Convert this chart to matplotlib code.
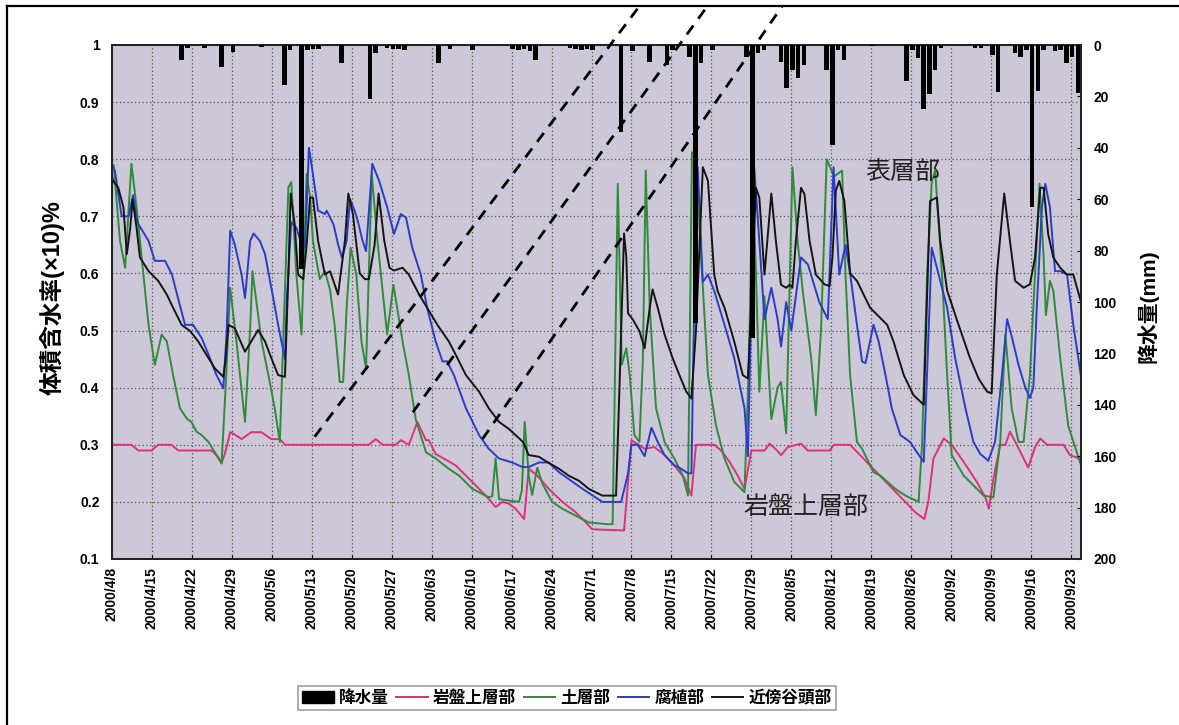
import numpy as np
import matplotlib.pyplot as plt
from matplotlib.lines import Line2D
from matplotlib.patches import Patch
from matplotlib.ticker import FuncFormatter

plt.rcParams['font.family'] = ['Liberation Sans', 'Noto Sans CJK JP']
plt.rcParams['axes.unicode_minus'] = False

# x = 2000/4/8 からの経過日数
date_labels = ['2000/4/8', '2000/4/15', '2000/4/22', '2000/4/29', '2000/5/6', '2000/5/13',
               '2000/5/20', '2000/5/27', '2000/6/3', '2000/6/10', '2000/6/17', '2000/6/24',
               '2000/7/1', '2000/7/8', '2000/7/15', '2000/7/22', '2000/7/29', '2000/8/5',
               '2000/8/12', '2000/8/19', '2000/8/26', '2000/9/2', '2000/9/9', '2000/9/16',
               '2000/9/23']
tick_days = [7 * i for i in range(len(date_labels))]

# 降水量 (日, mm)
rain = [(12, 5.8), (13, 1.2), (16, 1.0), (19, 8.5), (21, 2.6), (26, 0.6), (30, 15.6), (31, 2.0),
        (33, 87), (34, 2.0), (35, 1.5), (36, 1.5), (40, 7.0), (45, 21), (46, 3.0), (48, 1.0),
        (49, 1.5), (50, 1.5), (51, 2.0), (57, 7.0), (59, 1.5), (63, 2.0), (70, 1.5), (71, 2.0),
        (72, 1.5), (73, 2.5), (74, 5.8), (80, 1.0), (81, 1.5), (82, 2.0), (83, 1.5), (84, 2.0),
        (89, 34), (91, 2.5), (94, 6.5), (97, 7.8), (98, 2.0), (101, 4.5), (102, 108), (103, 7.0),
        (105, 2.0), (111, 4.7), (112, 114), (113, 3), (114, 2), (117, 6.6), (118, 16.9),
        (119, 9.7), (120, 12.9), (121, 7.8), (125, 9.7), (126, 38.9), (127, 2), (128, 5.8),
        (133, 0.5), (139, 14), (140, 2), (141, 5), (142, 25), (143, 19), (144, 9.7), (145, 1),
        (151, 1), (152, 1), (154, 3.9), (155, 18.2), (158, 3), (159, 4.5), (160, 2), (161, 63),
        (162, 18), (163, 2), (165, 2.5), (166, 2), (167, 7), (168, 4.6), (169, 18.8)]

# 岩盤上層部
bedrock = [(0, 0.30), (3.4, 0.30), (4.6, 0.29), (6.9, 0.29), (8.1, 0.30), (10.4, 0.30), (11.6, 0.29),
           (17.4, 0.29), (18.5, 0.28), (19.2, 0.268), (19.8, 0.285), (20.7, 0.322), (21.5, 0.318),
           (22.7, 0.31), (24.4, 0.322), (26.2, 0.322), (27.9, 0.31), (29.4, 0.31), (30.3, 0.30),
           (45.0, 0.30), (46.2, 0.31), (47.4, 0.30), (49.7, 0.30), (50.6, 0.308), (52.0, 0.30),
           (53.5, 0.34), (55.0, 0.308), (55.5, 0.308), (56.7, 0.284), (60.2, 0.264), (62.0, 0.246),
           (64.3, 0.223), (66.0, 0.205), (67.2, 0.191), (68.4, 0.20), (69.5, 0.197), (70.7, 0.188),
           (72.2, 0.17), (73.0, 0.258), (74.5, 0.246), (76.5, 0.223), (78.9, 0.20), (81.2, 0.182),
           (83.0, 0.164), (84.1, 0.152), (89.7, 0.15), (91.0, 0.308), (93.3, 0.293), (95.0, 0.296),
           (96.8, 0.282), (98.5, 0.264), (100.3, 0.241), (101.5, 0.211), (102.3, 0.30), (105.5, 0.30),
           (106.7, 0.29), (108.2, 0.27), (109.6, 0.246), (110.8, 0.223), (112.0, 0.29), (114.3, 0.29),
           (115.2, 0.302), (116.5, 0.29), (117.2, 0.282), (118.4, 0.296), (120.7, 0.302), (121.9, 0.29),
           (125.7, 0.29), (126.5, 0.30), (129.3, 0.30), (140.7, 0.182), (142.3, 0.17), (143.0, 0.20),
           (143.9, 0.276), (145.7, 0.311), (147.1, 0.30), (149.2, 0.27), (151.5, 0.235), (153.0, 0.208),
           (153.6, 0.188), (154.4, 0.24), (155.6, 0.30), (156.5, 0.30), (157.3, 0.323), (158.5, 0.30),
           (159.7, 0.276), (160.5, 0.26), (161.7, 0.296), (162.6, 0.311), (163.8, 0.30), (166.7, 0.30),
           (167.8, 0.282), (169.75, 0.275)]

# 土層部
soil = [(0, 0.78), (0.3, 0.79), (1.4, 0.657), (2.3, 0.61), (3.4, 0.792), (4.3, 0.716), (5.5, 0.598),
        (6.4, 0.51), (7.5, 0.44), (8.7, 0.493), (9.6, 0.481), (10.7, 0.422), (11.9, 0.364), (13.1, 0.346),
        (13.9, 0.34), (14.8, 0.323), (15.7, 0.317), (16.9, 0.305), (18.3, 0.282), (19.2, 0.267),
        (20.0, 0.42), (20.7, 0.575), (21.8, 0.481), (23.3, 0.34), (24.2, 0.504), (24.6, 0.604),
        (26.2, 0.481), (27.4, 0.422), (28.5, 0.364), (29.4, 0.305), (30.9, 0.751), (31.4, 0.76),
        (32.3, 0.598), (33.2, 0.493), (34.1, 0.774), (34.7, 0.733), (35.2, 0.657), (36.4, 0.59),
        (37.3, 0.604), (38.2, 0.571), (39.0, 0.51), (39.9, 0.41), (40.5, 0.41), (41.1, 0.54),
        (41.8, 0.645), (42.8, 0.598), (43.7, 0.481), (44.5, 0.434), (45.5, 0.774), (46.5, 0.657),
        (48.2, 0.493), (49.3, 0.58), (50.9, 0.481), (52.0, 0.422), (53.2, 0.345), (55.0, 0.287),
        (56.7, 0.276), (59.0, 0.258), (60.8, 0.246), (63.1, 0.223), (66.0, 0.208), (66.6, 0.21),
        (67.2, 0.276), (67.8, 0.205), (69.0, 0.203), (71.3, 0.20), (71.8, 0.22), (72.3, 0.34),
        (73.0, 0.246), (73.6, 0.212), (74.5, 0.26), (75.4, 0.232), (77.1, 0.20), (78.9, 0.188),
        (81.2, 0.176), (83.5, 0.164), (86.7, 0.161), (87.7, 0.161), (88.0, 0.35), (88.6, 0.757),
        (89.3, 0.44), (90.1, 0.469), (90.7, 0.422), (91.5, 0.317), (92.4, 0.305), (93.0, 0.45),
        (93.5, 0.78), (94.2, 0.54), (95.3, 0.364), (96.8, 0.305), (98.5, 0.276), (100.0, 0.246),
        (100.9, 0.211), (101.6, 0.812), (102.3, 0.804), (103.2, 0.628), (104.4, 0.422), (105.8, 0.334),
        (107.3, 0.276), (109.0, 0.235), (110.8, 0.217), (111.6, 0.45), (112.2, 0.786), (112.8, 0.60),
        (113.4, 0.393), (114.3, 0.56), (115.5, 0.345), (116.6, 0.40), (117.2, 0.41), (118.1, 0.32),
        (119.2, 0.786), (120.1, 0.657), (121.0, 0.57), (122.5, 0.45), (123.3, 0.352), (124.2, 0.50),
        (125.2, 0.80), (126.5, 0.77), (127.9, 0.78), (128.5, 0.598), (129.3, 0.422), (130.5, 0.305),
        (131.4, 0.293), (133.4, 0.252), (134.6, 0.246), (137.2, 0.223), (139.0, 0.211), (141.3, 0.20),
        (141.9, 0.30), (142.8, 0.60), (143.6, 0.76), (144.2, 0.78), (145.4, 0.598), (146.3, 0.422),
        (147.1, 0.282), (149.2, 0.246), (152.7, 0.211), (154.4, 0.208), (155.6, 0.305), (156.5, 0.493),
        (157.6, 0.364), (158.8, 0.305), (159.7, 0.305), (160.8, 0.422), (161.7, 0.598), (162.5, 0.757),
        (163.2, 0.628), (163.6, 0.527), (164.3, 0.587), (164.9, 0.57), (166.1, 0.452), (167.5, 0.334),
        (169.75, 0.264)]

# 腐植部
humus = [(0, 0.79), (0.5, 0.78), (1.7, 0.70), (2.9, 0.70), (3.7, 0.737), (4.4, 0.69), (6.4, 0.657),
         (7.5, 0.622), (9.3, 0.622), (10.5, 0.598), (12.0, 0.54), (12.8, 0.51), (14.2, 0.51),
         (15.7, 0.487), (16.9, 0.458), (18.3, 0.422), (19.5, 0.399), (20.1, 0.50), (20.7, 0.675),
         (21.5, 0.651), (22.7, 0.598), (23.3, 0.557), (24.2, 0.657), (24.8, 0.67), (25.9, 0.657),
         (26.8, 0.634), (28.0, 0.57), (29.1, 0.51), (30.3, 0.45), (30.6, 0.55), (31.4, 0.69),
         (32.3, 0.68), (33.2, 0.651), (33.8, 0.645), (34.5, 0.82), (35.2, 0.774), (36.1, 0.71),
         (37.3, 0.704), (37.6, 0.71), (38.8, 0.686), (39.6, 0.651), (40.3, 0.627), (41.1, 0.657),
         (41.7, 0.73), (42.5, 0.71), (43.1, 0.69), (43.9, 0.657), (44.5, 0.639), (45.6, 0.792),
         (46.8, 0.762), (48.2, 0.716), (49.4, 0.669), (50.6, 0.704), (51.5, 0.698), (52.6, 0.645),
         (54.1, 0.598), (55.2, 0.54), (56.7, 0.481), (57.9, 0.446), (58.7, 0.446), (59.9, 0.422),
         (62.0, 0.364), (64.3, 0.317), (66.0, 0.293), (67.8, 0.276), (70.1, 0.269), (71.9, 0.261),
         (73.0, 0.261), (74.8, 0.269), (76.5, 0.269), (78.3, 0.252), (80.0, 0.24), (82.4, 0.223),
         (85.9, 0.20), (89.2, 0.20), (90.4, 0.25), (91.0, 0.30), (92.1, 0.30), (93.3, 0.28),
         (94.5, 0.33), (95.6, 0.305), (96.8, 0.282), (98.5, 0.264), (99.7, 0.258), (100.9, 0.25),
         (101.5, 0.25), (102.0, 0.55), (102.6, 0.786), (103.5, 0.585), (104.4, 0.598), (105.5, 0.569),
         (107.3, 0.51), (109.0, 0.452), (110.8, 0.364), (111.4, 0.28), (112.0, 0.55), (112.5, 0.786),
         (113.4, 0.657), (114.3, 0.52), (115.5, 0.575), (116.6, 0.52), (117.2, 0.472), (118.1, 0.55),
         (119.0, 0.50), (120.7, 0.628), (121.9, 0.616), (123.9, 0.55), (125.4, 0.52), (126.4, 0.786),
         (127.4, 0.598), (128.5, 0.65), (129.3, 0.60), (130.5, 0.51), (131.4, 0.446), (132.0, 0.443),
         (133.4, 0.51), (134.3, 0.481), (135.5, 0.422), (136.6, 0.364), (138.1, 0.317), (139.8, 0.305),
         (141.0, 0.287), (142.2, 0.27), (143.6, 0.645), (144.8, 0.598), (146.3, 0.54), (147.7, 0.452),
         (149.5, 0.364), (150.9, 0.305), (152.1, 0.284), (153.5, 0.272), (154.7, 0.305), (155.9, 0.422),
         (156.8, 0.52), (157.6, 0.49), (158.8, 0.44), (160.0, 0.40), (160.8, 0.382), (161.4, 0.40),
         (162.0, 0.54), (162.9, 0.716), (163.5, 0.757), (164.3, 0.716), (165.2, 0.604), (166.1, 0.604),
         (167.3, 0.598), (168.4, 0.51), (169.75, 0.42)]

# 近傍谷頭部
valley = [(0, 0.77), (0.2, 0.762), (1.1, 0.75), (2.0, 0.716), (2.6, 0.634), (3.2, 0.68), (3.6, 0.73),
          (4.3, 0.68), (4.9, 0.628), (6.4, 0.604), (8.1, 0.587), (9.6, 0.563), (10.7, 0.54), (12.2, 0.51),
          (13.7, 0.499), (15.1, 0.481), (16.9, 0.452), (18.0, 0.434), (19.5, 0.419), (19.9, 0.45),
          (20.4, 0.51), (21.5, 0.504), (23.3, 0.463), (24.4, 0.481), (25.6, 0.501), (26.8, 0.481),
          (27.9, 0.452), (29.1, 0.422), (30.3, 0.419), (30.9, 0.598), (31.3, 0.74), (32.0, 0.686),
          (32.6, 0.598), (33.5, 0.59), (34.1, 0.65), (34.7, 0.733), (35.2, 0.733), (36.1, 0.657),
          (37.3, 0.598), (38.2, 0.604), (39.6, 0.563), (40.8, 0.657), (41.4, 0.74), (42.2, 0.704),
          (43.4, 0.60), (44.3, 0.59), (45.0, 0.59), (46.0, 0.65), (46.7, 0.74), (47.7, 0.657),
          (48.6, 0.61), (49.4, 0.605), (50.9, 0.61), (52.0, 0.598), (53.8, 0.563), (55.2, 0.54),
          (57.0, 0.51), (59.0, 0.481), (60.2, 0.458), (62.0, 0.422), (64.3, 0.393), (66.0, 0.364),
          (67.8, 0.34), (69.5, 0.328), (72.0, 0.305), (73.0, 0.282), (74.8, 0.279), (76.2, 0.27),
          (78.3, 0.258), (80.0, 0.246), (81.8, 0.237), (83.5, 0.223), (85.9, 0.211), (88.3, 0.211),
          (88.9, 0.40), (89.7, 0.67), (90.1, 0.628), (90.4, 0.53), (91.2, 0.52), (92.4, 0.499),
          (93.3, 0.469), (94.2, 0.54), (94.7, 0.572), (95.6, 0.54), (96.8, 0.493), (98.2, 0.452),
          (99.4, 0.422), (100.6, 0.393), (101.5, 0.381), (102.3, 0.50), (103.5, 0.786), (104.4, 0.762),
          (105.5, 0.598), (106.1, 0.569), (107.3, 0.54), (109.0, 0.481), (110.5, 0.422), (111.4, 0.416),
          (112.2, 0.60), (112.8, 0.75), (113.4, 0.733), (114.3, 0.598), (115.5, 0.74), (116.3, 0.657),
          (117.2, 0.58), (118.1, 0.575), (118.7, 0.58), (119.2, 0.575), (119.8, 0.657), (120.7, 0.75),
          (121.3, 0.739), (122.2, 0.657), (123.3, 0.598), (124.8, 0.581), (125.7, 0.578), (126.2, 0.627),
          (126.8, 0.745), (127.4, 0.762), (128.3, 0.727), (129.3, 0.60), (130.5, 0.587), (132.8, 0.54),
          (134.6, 0.522), (135.8, 0.51), (136.9, 0.481), (138.7, 0.422), (140.4, 0.387), (142.2, 0.37),
          (143.3, 0.727), (144.5, 0.733), (145.1, 0.657), (146.3, 0.57), (148.3, 0.51), (150.3, 0.452),
          (151.8, 0.416), (153.3, 0.393), (154.1, 0.39), (155.0, 0.598), (156.3, 0.74), (157.3, 0.657),
          (158.2, 0.587), (159.7, 0.575), (160.8, 0.581), (161.7, 0.628), (162.6, 0.75), (163.2, 0.75),
          (164.0, 0.669), (164.9, 0.628), (166.1, 0.61), (167.3, 0.598), (168.4, 0.598), (169.75, 0.55)]

# 図中の破線 (始点 -> 終点, 日・含水率)
guide_lines = [((35.5, 0.314), (92.4, 1.068)),
               ((52.7, 0.357), (104.3, 1.068)),
               ((64.9, 0.31), (117.4, 1.068))]

series = [('岩盤上層部', bedrock, '#e0307a'),
          ('土層部', soil, '#2f8a3a'),
          ('腐植部', humus, '#2a3cc8'),
          ('近傍谷頭部', valley, '#151515')]

W, H = 1179, 725
fig = plt.figure(figsize=(W / 100, H / 100), dpi=100)
ax = fig.add_axes([112 / W, 1 - 559 / H, (1081 - 112) / W, (559 - 45) / H])
ax.set_facecolor('#ccc8d8')

for name, pts, col in series:
    d, v = zip(*pts)
    ax.plot(d, v, color=col, lw=1.4, label=name, zorder=3)

ax.set_xlim(0, 169.75)
ax.set_ylim(0.1, 1.0)
ax.set_xticks(tick_days)
ax.set_xticklabels(date_labels, rotation=90, fontsize=10, fontweight='bold')
ax.set_yticks(np.arange(0.1, 1.01, 0.1))
ax.yaxis.set_major_formatter(FuncFormatter(lambda v, p: f'{v:g}'))
ax.tick_params(axis='y', length=0, pad=9, labelsize=10)
ax.tick_params(axis='x', length=3, direction='in', pad=6)
for lab in ax.get_yticklabels():
    lab.set_fontweight('bold')
ax.grid(True, ls=(0, (1, 2)), color='#555555', lw=0.9)
ax.set_axisbelow(True)
for sp in ax.spines.values():
    sp.set_linewidth(1.3)
    sp.set_color('#222222')

# 降水量 (右軸, 上から下向き)
ax2 = ax.twinx()
rd, rv = zip(*rain)
ax2.bar(np.array(rd) + 0.2, rv, width=0.8, color='black', zorder=4)
ax2.set_ylim(200, 0)
ax2.set_yticks(range(0, 201, 20))
ax2.tick_params(axis='y', length=3, direction='in', pad=9, labelsize=10)
for lab in ax2.get_yticklabels():
    lab.set_fontweight('bold')
for sp in ax2.spines.values():
    sp.set_linewidth(1.3)
    sp.set_color('#222222')

# 破線
for (x0, y0), (x1, y1) in guide_lines:
    fig.add_artist(Line2D([x0, x1], [y0, y1], transform=ax.transData, color='black',
                          lw=2.0, dashes=(4, 3), zorder=10))

# 軸ラベル
fig.text(52 / W, 1 - 298 / H, '体積含水率(×10)%', rotation=90, ha='center', va='center',
         fontsize=17, fontweight='bold')
fig.text(1148 / W, 1 - 306 / H, '降水量(mm)', rotation=90, ha='center', va='center',
         fontsize=15, fontweight='bold')

# 注記
ax.text(138.6, 0.778, '表層部', ha='center', va='center', fontsize=18, color='#222222',
        family='Noto Sans CJK JP', zorder=6)
ax.text(121.6, 0.191, '岩盤上層部', ha='center', va='center', fontsize=18, color='#222222',
        family='Noto Sans CJK JP', zorder=6)

# 凡例
handles = [Patch(facecolor='black', edgecolor='black')]
handles += [Line2D([], [], color=c, lw=1.4) for _, _, c in series]
labels = ['降水量'] + [n for n, _, _ in series]
leg = fig.legend(handles, labels, loc='center', bbox_to_anchor=(567 / W, 1 - 698 / H), ncol=5,
                 frameon=True, fancybox=False, handlelength=1.9, handletextpad=0.3,
                 columnspacing=0.45, borderpad=0.25, prop={'size': 12, 'weight': 'bold'})
leg.get_frame().set_edgecolor('#888888')
leg.get_frame().set_linewidth(1.2)

# 外枠 (左と上)
fig.add_artist(Line2D([7 / W, 7 / W], [0, 1 - 6 / H], transform=fig.transFigure, color='black', lw=1.6))
fig.add_artist(Line2D([7 / W, 1], [1 - 6 / H, 1 - 6 / H], transform=fig.transFigure, color='black', lw=1.6))

fig.savefig('out.png', dpi=100, facecolor='white')
